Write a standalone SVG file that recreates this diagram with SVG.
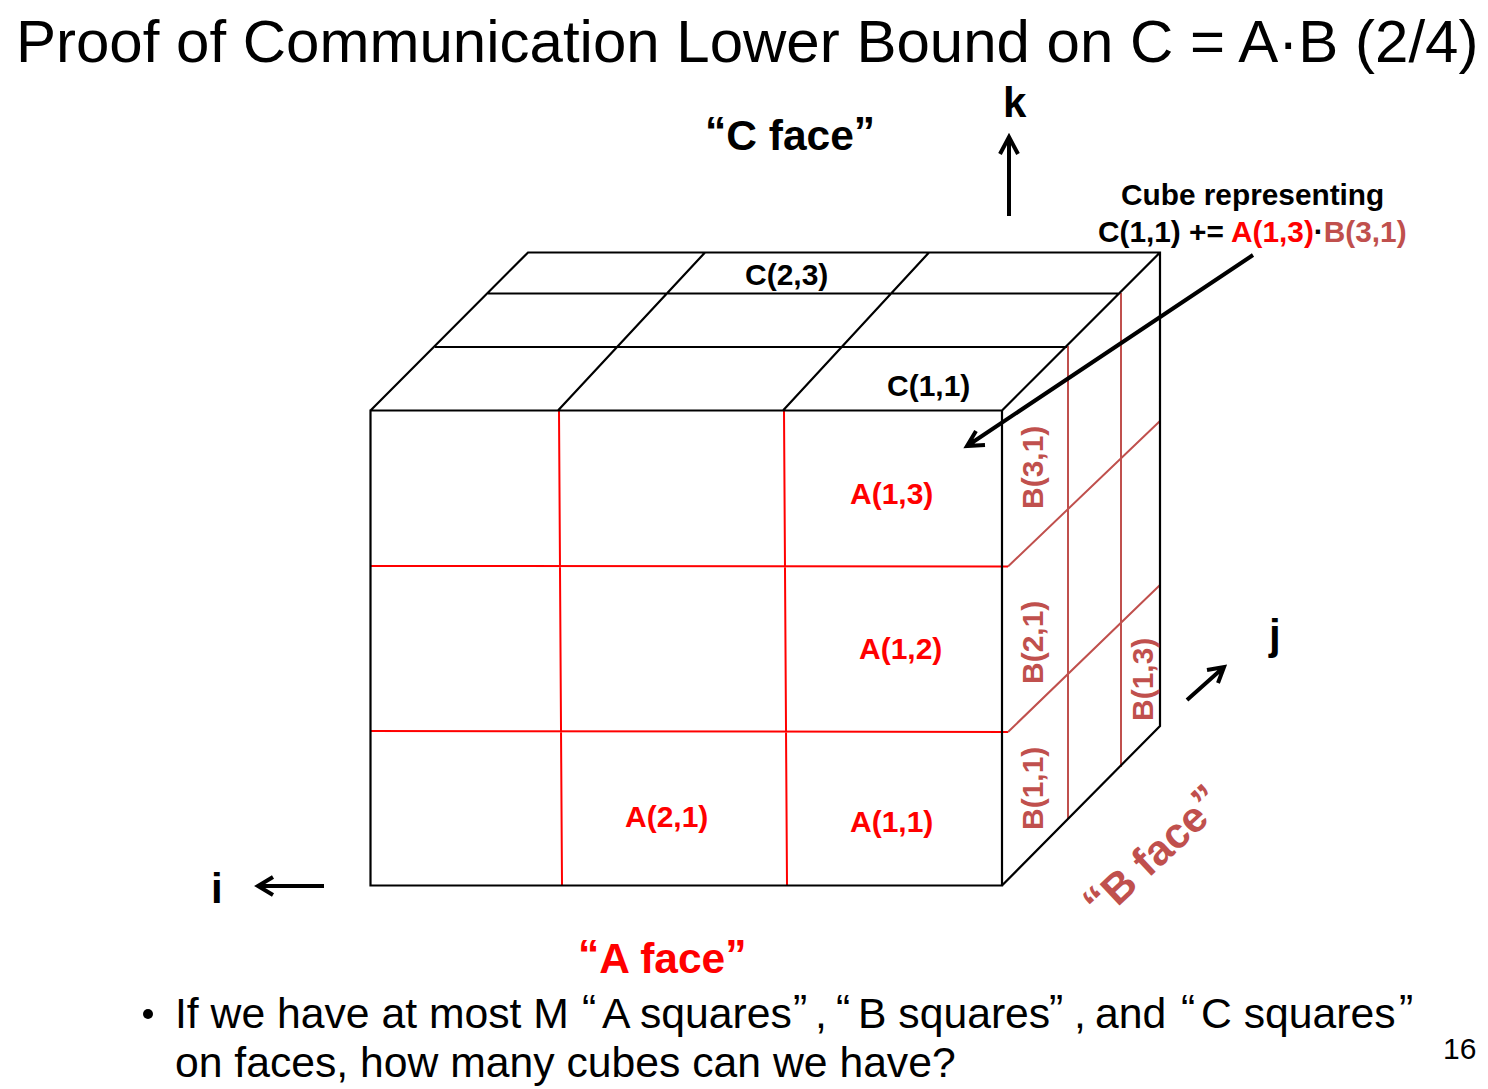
<svg xmlns="http://www.w3.org/2000/svg" width="1488" height="1089" viewBox="0 0 1488 1089">
<style>
text{font-family:"Liberation Sans",Arial,sans-serif;fill:#000}
.b{font-weight:bold}
.l{font-size:30px;font-weight:bold}
.a{fill:#f00}
.bc{fill:#c0504d}
.ln{fill:none;stroke:#000;stroke-width:2.2}
.red{fill:none;stroke:#f00;stroke-width:2}
.brn{fill:none;stroke:#c0504d;stroke-width:2}
.arr{fill:none;stroke:#000;stroke-width:4}
</style>
<rect width="1488" height="1089" fill="#fff"/>
<text x="16" y="61.500" font-size="60">Proof of Communication Lower Bound on C = A·B (2/4)</text>
<g id="cube">
<path class="red" d="M559 411L562 885M784 411L787 885M371 566L1008 566.500M371 731L1008 732"/>
<path class="brn" d="M1068 346V819M1121 293V767M1008 566.500L1160 421M1008 732L1160 585"/>
<path class="ln" d="M370.500 410.500H1002V885.500H370.500ZM370.500 410.500L528 252.500H1160V726L1002 885.500M1002 410.500L1160 252.500M435 347H1067M488 293.500H1120M558 410.500L705 252.500M783 410.500L929 252.500"/>
</g>
<g id="labels">
<text class="l" x="745" y="285">C(2,3)</text>
<text class="l" x="887" y="396">C(1,1)</text>
<text class="l a" x="850" y="504">A(1,3)</text>
<text class="l a" x="859" y="659">A(1,2)</text>
<text class="l a" x="625" y="827">A(2,1)</text>
<text class="l a" x="850" y="832">A(1,1)</text>
<text class="bc b" transform="translate(1043 509) rotate(-90)" font-size="30">B(3,1)</text>
<text class="bc b" transform="translate(1043 684) rotate(-90)" font-size="30">B(2,1)</text>
<text class="bc b" transform="translate(1043 830) rotate(-90)" font-size="30">B(1,1)</text>
<text class="bc b" transform="translate(1153 721) rotate(-90)" font-size="30">B(1,3)</text>
<text class="b" x="705" y="150" font-size="42.500"><tspan dy="-4">“</tspan><tspan dy="4">C face</tspan><tspan dy="-4">”</tspan></text>
<text class="b a" x="578" y="973" font-size="42.500"><tspan dy="-4">“</tspan><tspan dy="4">A face</tspan><tspan dy="-4">”</tspan></text>
<text class="b bc" transform="translate(1102 922) rotate(-43)" font-size="42.500"><tspan dy="-4">“</tspan><tspan dy="4">B face</tspan><tspan dy="-4">”</tspan></text>
<text class="b" x="1121" y="205" font-size="29.800">Cube representing</text>
<text class="b" x="1098" y="242" font-size="29.800">C(1,1) += <tspan class="a">A(1,3)</tspan>·<tspan class="bc">B(3,1)</tspan></text>
<text class="b" x="1003" y="117" font-size="42">k</text>
<text class="b" x="1269" y="649" font-size="42">j</text>
<text class="b" x="211" y="903" font-size="42">i</text>
</g>
<g id="connectors">
<path class="arr" d="M1009 216V137M1000 154L1009 137L1018 154"/>
<path class="arr" d="M324 886H258M273 877L258 886L273 895"/>
<path class="arr" d="M1187 700L1224 667M1207 670L1224 667L1218 683"/>
<path class="arr" d="M1253 255L967 446M985 445L967 446L976 431"/>
</g>
<circle cx="148" cy="1014" r="5" fill="#000"/>
<text x="175" y="1028" font-size="42.700">If we have at most M<tspan x="582" y="1024">“</tspan><tspan x="602" y="1028">A squares</tspan><tspan x="793" y="1024">”</tspan><tspan x="815" y="1028">,</tspan><tspan x="836" y="1024">“</tspan><tspan x="858" y="1028">B squares</tspan><tspan x="1049" y="1024">”</tspan><tspan x="1074" y="1028">,</tspan><tspan x="1095" y="1028">and</tspan><tspan x="1181" y="1024">“</tspan><tspan x="1201" y="1028">C squares</tspan><tspan x="1399" y="1024">”</tspan></text>
<text x="175" y="1077" font-size="42.700">on faces, how many cubes can we have?</text>
<text x="1443" y="1059" font-size="30">16</text>
</svg>
